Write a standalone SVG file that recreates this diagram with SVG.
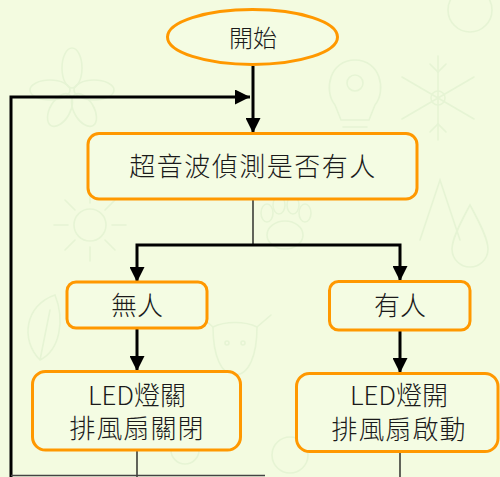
<svg xmlns="http://www.w3.org/2000/svg" width="500" height="477" viewBox="0 0 500 477">
  <defs>
    <style>
      .node { fill: #f4fce3; stroke: #ff9800; stroke-width: 3; }
      .label { font-family: "Noto Sans CJK TC", "Noto Sans", sans-serif; font-weight: 300; fill: #1a1a1a; text-anchor: middle; }
      .thick { fill: none; stroke: #000; stroke-width: 3; }
      .thin { fill: none; stroke: #111; stroke-width: 1.3; }
      .doodle { fill: none; stroke: #e6f4d4; stroke-width: 1.6; stroke-linecap: round; }
    </style>
    <marker id="arrow" viewBox="0 0 10 10" refX="10" refY="5" markerWidth="5" markerHeight="5" markerUnits="strokeWidth" orient="auto">
      <path d="M0,0 L10,5 L0,10 Z" fill="#000"/>
    </marker>
  </defs>

  <!-- background -->
  <rect width="500" height="477" fill="#f3fbe0"/>

  <!-- faint decorative doodles -->
  <g class="doodle">
    <!-- snowflake -->
    <g transform="translate(438,98)">
      <path d="M0,-42 V42 M-36,-21 L36,21 M-36,21 L36,-21"/>
      <path d="M-8,-34 L0,-26 L8,-34 M-8,34 L0,26 L8,34"/>
      <circle r="7"/>
    </g>
    <!-- flower -->
    <g transform="translate(72,90)">
      <ellipse cx="0" cy="-22" rx="10" ry="20"/>
      <ellipse cx="22" cy="0" rx="20" ry="10"/>
      <ellipse cx="-22" cy="0" rx="20" ry="10"/>
      <ellipse cx="12" cy="20" rx="10" ry="18" transform="rotate(-30 12 20)"/>
      <ellipse cx="-12" cy="20" rx="10" ry="18" transform="rotate(30 -12 20)"/>
    </g>
    <!-- light bulb -->
    <g transform="translate(355,95)">
      <path d="M-20,10 C-32,-5 -25,-35 0,-35 C25,-35 32,-5 20,10 L14,25 H-14 Z"/>
      <path d="M-12,32 H12 M-10,39 H10"/>
      <circle cx="0" cy="-12" r="8"/>
    </g>
    <!-- sun -->
    <g transform="translate(90,225)">
      <circle r="16"/>
      <path d="M0,-22 V-36 M0,22 V36 M-22,0 H-36 M22,0 H36 M15,15 L25,25 M-15,-15 L-25,-25 M15,-15 L25,-25 M-15,15 L-25,25"/>
    </g>
    <!-- paw -->
    <g transform="translate(285,225)">
      <ellipse cx="0" cy="10" rx="18" ry="14"/>
      <ellipse cx="-18" cy="-12" rx="6" ry="9"/>
      <ellipse cx="-6" cy="-20" rx="6" ry="9"/>
      <ellipse cx="8" cy="-20" rx="6" ry="9"/>
      <ellipse cx="20" cy="-12" rx="6" ry="9"/>
    </g>
    <!-- cow head -->
    <g transform="translate(235,345)">
      <path d="M-22,-18 C-22,10 -14,30 0,30 C14,30 22,10 22,-18 C10,-24 -10,-24 -22,-18 Z"/>
      <path d="M-22,-18 L-36,-30 M22,-18 L36,-30"/>
      <circle cx="-8" cy="-2" r="2"/>
      <circle cx="8" cy="-2" r="2"/>
    </g>
    <!-- leaf -->
    <g transform="translate(40,330)">
      <path d="M0,30 C-20,10 -15,-25 15,-35 C25,-10 20,20 0,30 Z M0,30 L10,-20"/>
    </g>
    <!-- droplet -->
    <g transform="translate(470,235)">
      <path d="M0,-30 C-12,-8 -18,5 -18,14 A18,18 0 0 0 18,14 C18,5 12,-8 0,-30 Z"/>
    </g>
    <!-- tent -->
    <g transform="translate(440,200)">
      <path d="M-20,40 L0,-20 L20,40"/>
    </g>
    <!-- circles -->
    <circle cx="185" cy="450" r="14"/>
    <circle cx="290" cy="455" r="18"/>
    <circle cx="470" cy="10" r="22"/>
  </g>

  <!-- connectors -->
  <g id="connectors">
    <path class="thick" d="M253,66 V133" marker-end="url(#arrow)"/>
    <path class="thick" d="M11,477 V97 H250" marker-end="url(#arrow)"/>
    <path class="thin" d="M253,199 V245"/>
    <path class="thick" d="M253,245 H137 V282" marker-end="url(#arrow)"/>
    <path class="thick" d="M253,245 H400 V281" marker-end="url(#arrow)"/>
    <path class="thick" d="M137,328 V371" marker-end="url(#arrow)"/>
    <path class="thick" d="M400,330 V373" marker-end="url(#arrow)"/>
    <path class="thin" d="M137,450 V477"/>
    <path class="thin" d="M400,452 V477"/>
    <path d="M11,475.5 H265" fill="none" stroke="#444" stroke-width="1.3"/>
  </g>

  <!-- nodes -->
  <g id="start">
    <ellipse class="node" cx="252.5" cy="37" rx="85" ry="27.5"/>
    <text class="label" x="253" y="46.5" font-size="24">開始</text>
  </g>

  <g id="detect">
    <rect class="node" x="88" y="133.5" width="329" height="65.5" rx="11"/>
    <text class="label" x="253" y="175.5" font-size="26" letter-spacing="1.5">超音波偵測是否有人</text>
  </g>

  <g id="nobody">
    <rect class="node" x="67" y="282" width="140" height="46" rx="9"/>
    <text class="label" x="137" y="315" font-size="26">無人</text>
  </g>

  <g id="somebody">
    <rect class="node" x="329.5" y="281.5" width="140.5" height="48.5" rx="9"/>
    <text class="label" x="400" y="315" font-size="26">有人</text>
  </g>

  <g id="off">
    <rect class="node" x="32.5" y="371.5" width="208" height="78.5" rx="13"/>
    <text class="label" x="137" y="405" font-size="26">LED燈關</text>
    <text class="label" x="137" y="438" font-size="26" letter-spacing="1">排風扇關閉</text>
  </g>

  <g id="on">
    <rect class="node" x="296.5" y="373.5" width="201.5" height="78" rx="13"/>
    <text class="label" x="399" y="405" font-size="26">LED燈開</text>
    <text class="label" x="399" y="439" font-size="26" letter-spacing="1">排風扇啟動</text>
  </g>
</svg>
